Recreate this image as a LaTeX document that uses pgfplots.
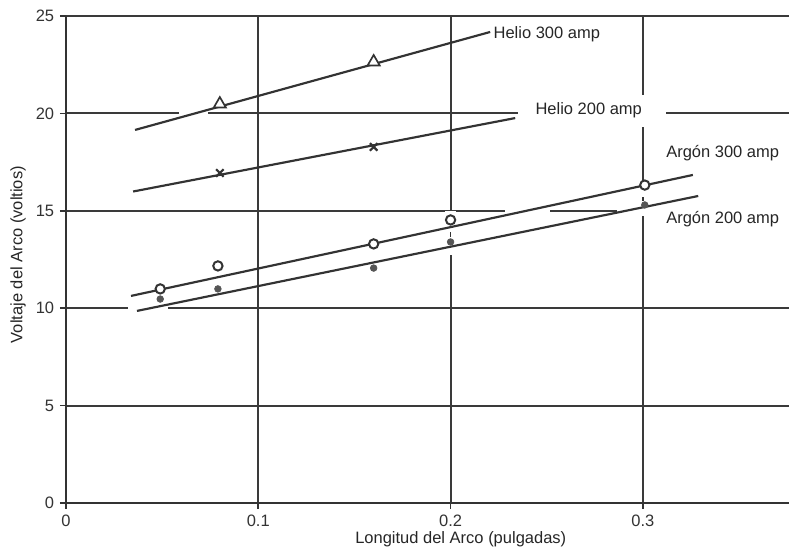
\documentclass[border=0pt]{standalone}
\usepackage{fontspec}
\setmainfont{Liberation Sans}
\usepackage{pgfplots}
\pgfplotsset{compat=1.18}
\definecolor{ink}{HTML}{333333}
\definecolor{gridc}{HTML}{3A3A3A}
\definecolor{dotc}{HTML}{555555}
\begin{document}
\begin{tikzpicture}
\begin{axis}[
  set layers,
  scale only axis,
  width=433.8pt, height=292.2pt,
  xmin=0, xmax=0.376, ymin=0, ymax=25,
  axis lines=left,
  axis line style={-, color=ink, line width=1.2pt},
  xtick={0,0.1,0.2,0.3},
  xticklabels={0,0.1,0.2,0.3},
  ytick={0,5,10,15,20,25},
  tick align=outside,
  major tick length=3.6pt,
  tick style={color=ink, line width=1.0pt},
  grid=major,
  grid style={color=gridc, line width=1.2pt},
  ticklabel style={font=\fontsize{9.9}{11}\selectfont, color=ink},
  /pgf/number format/assume math mode=true,
  label style={font=\fontsize{9.9}{11}\selectfont, color=black!85},
  xlabel={Longitud del Arco (pulgadas)},
  ylabel={Voltaje del Arco (voltios)},
  x label style={at={(axis description cs:0.546,-0.0739)}, anchor=center},
  y label style={at={(axis description cs:-0.0664,0.51)}, anchor=center, rotate=0},
  clip=false,
]
\coordinate (LL) at (rel axis cs:0,0);
\coordinate (UR) at (rel axis cs:1,1);
% white gaps in the grid
\begin{pgfonlayer}{pre main}
\fill[white] (axis cs:0.2352,19.30) rectangle (axis cs:0.3122,20.94);
\fill[white] (axis cs:0.2867,14.72) rectangle (axis cs:0.376,15.30);
\fill[white] (axis cs:0.0323,9.75) rectangle (axis cs:0.0531,10.25);
\fill[white] (axis cs:0.0588,19.75) rectangle (axis cs:0.0739,20.25);
\fill[white] (axis cs:0.2284,14.75) rectangle (axis cs:0.2518,15.25);
\fill[white] (axis cs:0.197,12.73) rectangle (axis cs:0.203,14.99);
\fill[white] (axis cs:0.2975,14.92) rectangle (axis cs:0.3035,16.10);
\end{pgfonlayer}
% dashed connectors
\addplot[ink, line width=1.1pt] coordinates {(0.2,13.65) (0.2,13.91)};
\addplot[ink, line width=1.1pt] coordinates {(0.3,15.52) (0.3,15.72)};
% Helio 300 amp
\addplot[ink, line width=1.3pt] coordinates {(0.0359,19.15) (0.2206,24.18)};
\addplot[only marks, mark=triangle*, mark size=4.2pt, mark options={fill=white, draw=ink, line width=1.0pt}] coordinates {(0.08,20.48) (0.16,22.64)};
% Helio 200 amp
\addplot[ink, line width=1.3pt] coordinates {(0.0349,15.99) (0.2336,19.76)};
\addplot[only marks, mark=x, mark size=3.2pt, mark options={draw=ink, line width=1.3pt}] coordinates {(0.08,16.94) (0.16,18.28)};
% Argon 300 amp
\addplot[ink, line width=1.3pt] coordinates {(0.0338,10.63) (0.326,16.84)};
\addplot[only marks, mark=*, mark size=2.8pt, mark options={fill=white, draw=ink, line width=1.2pt}] coordinates {(0.049,10.99) (0.079,12.17) (0.16,13.30) (0.2,14.53) (0.301,16.32)};
% Argon 200 amp
\addplot[ink, line width=1.3pt] coordinates {(0.0369,9.86) (0.3288,15.76)};
\addplot[only marks, mark=*, mark size=2.0pt, mark options={fill=dotc, draw=dotc}] coordinates {(0.049,10.47) (0.079,10.99) (0.16,12.06) (0.2,13.40) (0.301,15.30)};
% labels
\node[anchor=west, inner sep=0pt, font=\fontsize{9.9}{11}\selectfont, text=black!85] at (axis cs:0.2222,24.08) {Helio 300 amp};
\node[anchor=west, inner sep=0pt, font=\fontsize{9.9}{11}\selectfont, text=black!85] at (axis cs:0.244,20.17) {Helio 200 amp};
\node[anchor=west, inner sep=0pt, font=\fontsize{9.9}{11}\selectfont, text=black!85] at (axis cs:0.312,17.97) {Argón 300 amp};
\node[anchor=west, inner sep=0pt, font=\fontsize{9.9}{11}\selectfont, text=black!85] at (axis cs:0.312,14.58) {Argón 200 amp};
\end{axis}
\pgfresetboundingbox
\path ([shift={(-39.6pt,-28.8pt)}]LL) rectangle ([shift={(0pt,9.6pt)}]UR);
\end{tikzpicture}
\end{document}
